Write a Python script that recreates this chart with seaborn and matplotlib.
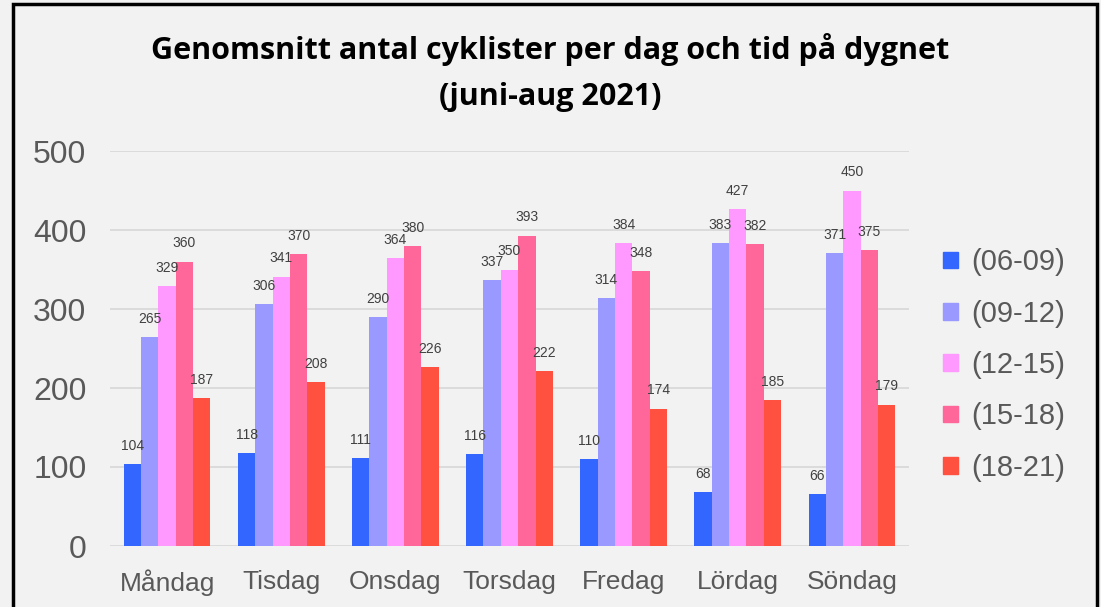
import pandas as pd
import numpy as np
import matplotlib.pyplot as plt
import matplotlib.patches as patches
import seaborn as sns

days = ['Måndag', 'Tisdag', 'Onsdag', 'Torsdag', 'Fredag', 'Lördag', 'Söndag']
periods = ['(06-09)', '(09-12)', '(12-15)', '(15-18)', '(18-21)']
v0609 = [104, 118, 111, 116, 110, 68, 66]
v0912 = [265, 306, 290, 337, 314, 383, 371]
v1215 = [329, 341, 364, 350, 384, 427, 450]
v1518 = [360, 370, 380, 393, 348, 382, 375]
v1821 = [187, 208, 226, 222, 174, 185, 179]
colors = ['#3366ff', '#9999ff', '#ff99ff', '#ff6699', '#ff5040']

rows = []
for p, vals in zip(periods, [v0609, v0912, v1215, v1518, v1821]):
    for d, v in zip(days, vals):
        rows.append({'Dag': d, 'Tid': p, 'Antal': v})
df = pd.DataFrame(rows)

sns.set_style('white')
plt.rcParams['font.family'] = ['Liberation Sans', 'DejaVu Sans']
bg = '#f2f2f2'

fig = plt.figure(figsize=(11.01, 6.07), dpi=100, facecolor=bg)
ax = fig.add_axes([110 / 1101, 1 - 546 / 607, 799 / 1101, 395 / 607])
ax.set_facecolor(bg)

sns.barplot(data=df, x='Dag', y='Antal', hue='Tid', order=days, hue_order=periods,
            palette=colors, width=0.76, saturation=1, linewidth=0, ax=ax, legend=False)

for cont in ax.containers:
    ax.bar_label(cont, padding=8, fontsize=10, color='#404040')

ax.set_ylim(0, 500)
ax.set_xlim(-0.5, 6.5)
ax.set_yticks([0, 100, 200, 300, 400, 500])
ax.yaxis.grid(True, color='#d9d9d9', linewidth=1.3)
ax.set_axisbelow(True)
for s in ax.spines.values():
    s.set_visible(False)
ax.set_xlabel('')
ax.set_ylabel('')
ax.tick_params(axis='y', labelsize=23, colors='#595959', length=0, pad=17)
ax.tick_params(axis='x', labelsize=19, colors='#595959', length=0, pad=17)

handles = [patches.Patch(color=c) for c in colors]
fig.legend(handles, periods, loc='center left', bbox_to_anchor=(917 / 1101, 1 - 365 / 607),
           frameon=False, fontsize=21, labelcolor='#595959', handlelength=0.5,
           handleheight=0.5, handletextpad=0.45, labelspacing=0.8)

fig.text(0.5, 1 - 50 / 607, 'Genomsnitt antal cyklister per dag och tid på dygnet',
         ha='center', va='center', fontsize=22, fontweight='bold',
         family=['Open Sans', 'DejaVu Sans'], color='black')
fig.text(0.5, 1 - 97 / 607, '(juni-aug 2021)',
         ha='center', va='center', fontsize=22, fontweight='bold',
         family=['Open Sans', 'DejaVu Sans'], color='black')

border = patches.Rectangle((13 / 1101, -0.05), (1097 - 13) / 1101, 1.05 - 4 / 607,
                           transform=fig.transFigure, fill=False, edgecolor='black',
                           linewidth=2.5, clip_on=False)
fig.patches.append(border)

fig.savefig('out.png', dpi=100, facecolor=bg)
